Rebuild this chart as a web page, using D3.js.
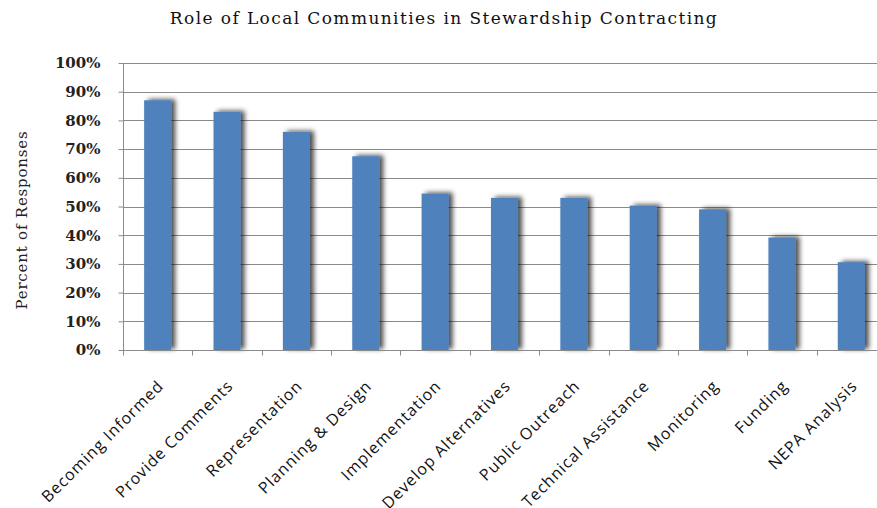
<!DOCTYPE html>
<html>
<head>
<meta charset="utf-8">
<script src="https://cdn.jsdelivr.net/npm/d3@7"></script>
<style>
  html, body { margin: 0; padding: 0; background: #fff; }
  svg { display: block; }
</style>
</head>
<body>
<script>
const categories = ["Becoming Informed","Provide Comments","Representation","Planning & Design","Implementation","Develop Alternatives","Public Outreach","Technical Assistance","Monitoring","Funding","NEPA Analysis"];
const values = [0.87, 0.83, 0.76, 0.675, 0.545, 0.53, 0.53, 0.503, 0.49, 0.392, 0.306];
const yTicks = [0, 0.1, 0.2, 0.3, 0.4, 0.5, 0.6, 0.7, 0.8, 0.9, 1.0];
const titleText = "Role of Local Communities in Stewardship Contracting";
const yTitle = "Percent of Responses";

const W = 877, H = 508;
const pLeft = 123, pRight = 886, pTop = 63, pBottom = 350;

const svg = d3.select("body").append("svg").attr("width", W).attr("height", H);

const defs = svg.append("defs");
const f = defs.append("filter").attr("id", "shadow").attr("x", "-50%").attr("y", "-10%").attr("width", "200%").attr("height", "120%");
f.append("feGaussianBlur").attr("in", "SourceAlpha").attr("stdDeviation", 2.5).attr("result", "b");
f.append("feOffset").attr("in", "b").attr("dx", 4).attr("dy", -1).attr("result", "o");
f.append("feComponentTransfer").attr("in", "o").attr("result", "s")
  .append("feFuncA").attr("type", "linear").attr("slope", 0.7);
const m = f.append("feMerge");
m.append("feMergeNode").attr("in", "s");
m.append("feMergeNode").attr("in", "SourceGraphic");

const y = d3.scaleLinear().domain([0, 1]).range([pBottom, pTop]);
const xb = d3.scaleBand().domain(categories).range([pLeft, pRight]).paddingInner(0.61).paddingOuter(0.305);
const xs = d3.scaleBand().domain(categories).range([pLeft, pRight]).padding(0);

// gridlines
svg.append("g").selectAll("line").data(yTicks.filter(d => d > 0)).join("line")
  .attr("x1", pLeft).attr("x2", W)
  .attr("y1", d => Math.round(y(d)) + 0.5).attr("y2", d => Math.round(y(d)) + 0.5)
  .attr("stroke", "#8a8a8a").attr("stroke-width", 1);

// bars
svg.append("g").selectAll("rect").data(values).join("rect")
  .attr("filter", "url(#shadow)")
  .attr("x", (d, i) => xb(categories[i]))
  .attr("width", xb.bandwidth())
  .attr("y", d => y(d))
  .attr("height", d => pBottom - y(d))
  .attr("fill", "#4F81BD");

// y axis
const yAxis = d3.axisLeft(y).tickValues(yTicks).tickFormat(d3.format(".0%")).tickSize(5).tickPadding(18);
const gy = svg.append("g").attr("transform", `translate(${pLeft + 0.5},0)`).call(yAxis);
gy.select(".domain").attr("stroke", "#8a8a8a").attr("d", `M0,${pTop}V${pBottom}`);
gy.selectAll(".tick line").attr("stroke", "#8a8a8a");
gy.selectAll(".tick text").attr("font-family", "'DejaVu Serif', serif").attr("font-weight", "bold")
  .attr("font-size", 15).attr("fill", "#222");

// x axis
const xAxis = d3.axisBottom(xs).tickSize(0).tickFormat("");
const gx = svg.append("g").attr("transform", `translate(0,${pBottom + 0.5})`).call(xAxis);
gx.select(".domain").attr("stroke", "#8a8a8a").attr("d", `M${pLeft},0H${W}`);
gx.selectAll(".tick").remove();
gx.selectAll(".bound").data(categories.concat(["__end"])).join("line")
  .attr("class", "bound")
  .attr("x1", (d, i) => Math.round(pLeft + i * xs.step()) + 0.5)
  .attr("x2", (d, i) => Math.round(pLeft + i * xs.step()) + 0.5)
  .attr("y1", 0).attr("y2", 5).attr("stroke", "#8a8a8a");

// x labels
svg.append("g").selectAll("text").data(categories).join("text")
  .attr("transform", d => `translate(${xs(d) + xs.bandwidth() / 2 + 7},${pBottom + 37}) rotate(-45)`)
  .attr("text-anchor", "end")
  .attr("font-family", "'Open Sans', sans-serif")
  .attr("font-size", 16)
  .attr("letter-spacing", 1)
  .attr("fill", "#111")
  .text(d => d);

// title
svg.append("text").attr("x", 444).attr("y", 24).attr("text-anchor", "middle")
  .attr("font-family", "'DejaVu Serif', serif").attr("font-size", 17).attr("letter-spacing", 1.4).attr("fill", "#111")
  .text(titleText);

// y title
svg.append("text").attr("transform", `translate(27,${(135 + 305) / 2}) rotate(-90)`)
  .attr("text-anchor", "middle")
  .attr("font-family", "'DejaVu Serif', serif").attr("font-size", 15).attr("letter-spacing", 0.8).attr("fill", "#222")
  .text(yTitle);
</script>
</body>
</html>
